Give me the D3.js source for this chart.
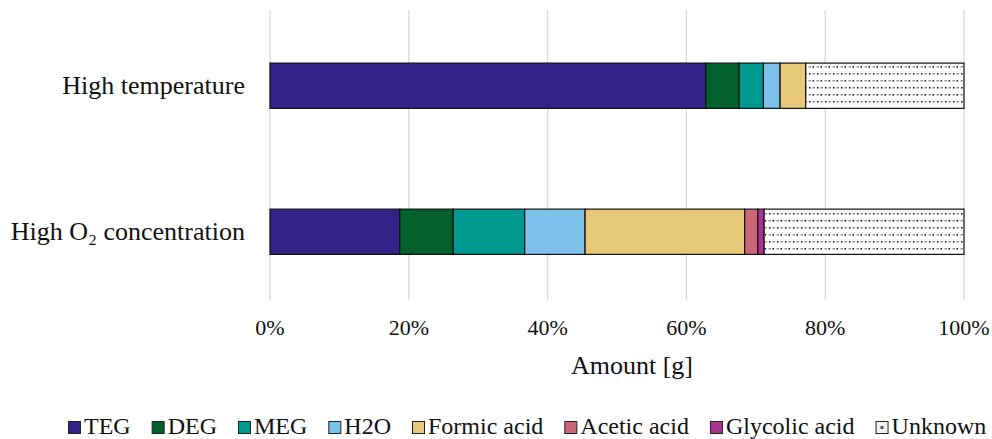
<!DOCTYPE html>
<html><head><meta charset="utf-8">
<script src="https://cdn.jsdelivr.net/npm/d3@7"></script>
<style>body{margin:0;background:#fff}svg{display:block;font-family:"Liberation Serif","Times New Roman",serif}</style>
</head><body><svg id="c" width="992" height="439"></svg>
<script>
const categories = ["High temperature", "High O\u2082 concentration"];
const seriesNames = ["TEG","DEG","MEG","H2O","Formic acid","Acetic acid","Glycolic acid","Unknown"];
const highTemperature = [62.8, 4.8, 3.5, 2.4, 3.7, 0, 0, 22.8];
const highO2 = [18.7, 7.7, 10.3, 8.7, 23.0, 1.9, 0.9, 28.8];
const tickValues = [0, 0.2, 0.4, 0.6, 0.8, 1.0];
const colors = ["#332288","#02602a","#009990","#7cc1ea","#e7c878","#cc6676","#aa3590","url(#dots)"];

const svg = d3.select("#c");
const defs = svg.append("defs");
const pat = defs.append("pattern").attr("id","dots").attr("patternUnits","userSpaceOnUse")
  .attr("width",8).attr("height",14);
pat.append("rect").attr("width",8).attr("height",14).attr("fill","#fff");
pat.append("rect").attr("x",1).attr("y",3).attr("width",1.6).attr("height",1.6).attr("fill","#222");
pat.append("rect").attr("x",4.5).attr("y",3.2).attr("width",2.5).attr("height",1.2).attr("fill","#777");
pat.append("rect").attr("x",4.5).attr("y",10).attr("width",1.6).attr("height",1.6).attr("fill","#222");
pat.append("rect").attr("x",0.5).attr("y",10.2).attr("width",2.5).attr("height",1.2).attr("fill","#777");

const rows = [highTemperature, highO2];
const x = d3.scaleLinear().domain([0,1]).range([270,964]);
const y = d3.scaleBand().domain(categories).range([12,305.5]).paddingInner(0.69).paddingOuter(0.35);

// gridlines
svg.append("g").selectAll("line").data(tickValues).join("line")
  .attr("x1",d=>x(d)).attr("x2",d=>x(d)).attr("y1",10).attr("y2",300)
  .attr("stroke","#d9d9d9").attr("stroke-width",1.3);

// bars
rows.forEach((vals,i)=>{
  const total = d3.sum(vals);
  let cum = 0;
  const segs = vals.map((v,j)=>{const s={x0:cum/total,x1:(cum+v)/total,j}; cum+=v; return s;}).filter(s=>s.x1>s.x0);
  svg.append("g").selectAll("rect").data(segs).join("rect")
    .attr("x",d=>x(d.x0)).attr("width",d=>x(d.x1)-x(d.x0))
    .attr("y",y(categories[i])).attr("height",y.bandwidth())
    .attr("fill",d=>colors[d.j]).attr("stroke","#111").attr("stroke-width",1.2);
});

// x axis labels
svg.append("g").selectAll("text").data(tickValues).join("text")
  .attr("x",d=>x(d)).attr("y",335).attr("text-anchor","middle")
  .attr("font-size",22).attr("fill","#111").text(d=>d3.format(".0%")(d));

svg.append("text").attr("x",632).attr("y",374).attr("text-anchor","middle")
  .attr("font-size",26).attr("fill","#111").text("Amount [g]");

// category labels
svg.append("g").selectAll("text").data(categories).join("text")
  .attr("x",245).attr("y",d=>y(d)+y.bandwidth()/2+8).attr("text-anchor","end")
  .attr("font-size",26).attr("fill","#111").text(d=>d);

// legend
const lg = svg.append("g");
let lx = 68;
seriesNames.forEach((n,j)=>{
  lg.append("rect").attr("x",lx+0.5).attr("y",421.5).attr("width",12).attr("height",12)
    .attr("fill", j===7 ? "#f2f2f2" : colors[j]).attr("stroke","#222").attr("stroke-width",1);
  if(j===7) lg.append("rect").attr("x",lx+5).attr("y",426).attr("width",3).attr("height",3).attr("fill","#555");
  const t = lg.append("text").attr("x",lx+16).attr("y",434).attr("font-size",24).attr("fill","#111").text(n);
  lx += 16 + t.node().getComputedTextLength() + 21;
});
</script></body></html>
